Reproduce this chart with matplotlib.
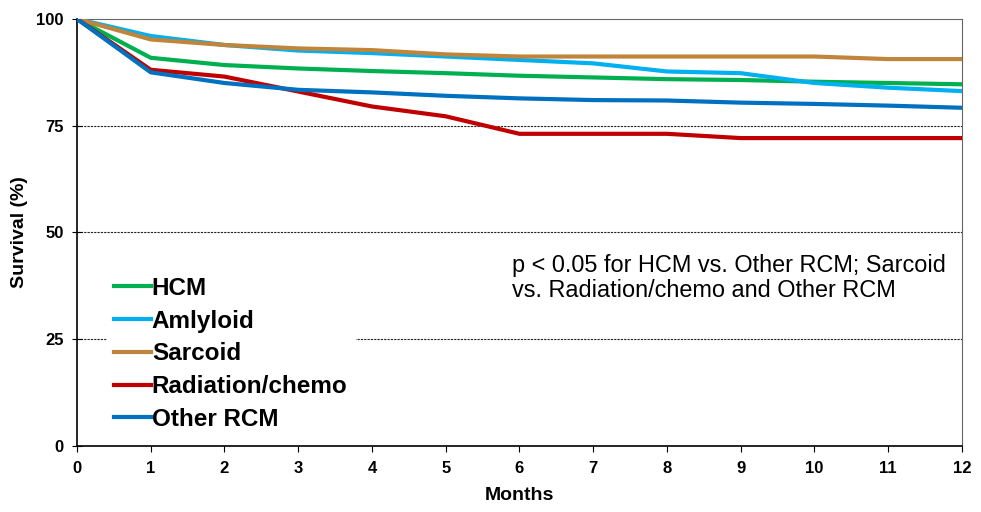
import matplotlib.pyplot as plt

months = [0, 1, 2, 3, 4, 5, 6, 7, 8, 9, 10, 11, 12]
hcm = [100, 90.9, 89.2, 88.4, 87.8, 87.3, 86.7, 86.3, 85.9, 85.7, 85.3, 85.0, 84.7]
amyloid = [100, 96.0, 93.9, 92.6, 92.0, 91.2, 90.4, 89.6, 87.7, 87.3, 85.0, 83.9, 83.1]
sarcoid = [100, 95.2, 93.9, 93.1, 92.7, 91.7, 91.2, 91.2, 91.2, 91.2, 91.2, 90.6, 90.6]
radiation = [100, 88.1, 86.5, 83.0, 79.5, 77.2, 73.1, 73.1, 73.1, 72.1, 72.1, 72.1, 72.1]
other_rcm = [100, 87.5, 85.0, 83.4, 82.8, 82.0, 81.4, 81.0, 80.9, 80.4, 80.1, 79.7, 79.2]

series = [
    ('HCM', hcm, '#00b050'),
    ('Amlyloid', amyloid, '#00b0f0'),
    ('Sarcoid', sarcoid, '#c0843a'),
    ('Radiation/chemo', radiation, '#c00000'),
    ('Other RCM', other_rcm, '#0070c0'),
]

plt.rcParams['font.family'] = ['Liberation Sans', 'DejaVu Sans']

fig = plt.figure(figsize=(9.81, 5.12), dpi=100)
ax = fig.add_axes([0.0785, 0.129, 0.902, 0.834])

for y in [25, 50, 75]:
    ax.axhline(y, color='#222222', linestyle=(0, (2, 1)), linewidth=0.8, zorder=1)

for name, vals, col in series:
    ax.plot(months, vals, color=col, linewidth=3, label=name, zorder=3)

ax.set_xlim(0, 12)
ax.set_ylim(0, 100)
ax.set_xticks(months)
ax.set_yticks([0, 25, 50, 75, 100])
ax.tick_params(axis='x', labelsize=12, direction='out', length=4, pad=7)
ax.tick_params(axis='y', labelsize=12, direction='inout', length=7, pad=6)
for lbl in ax.get_xticklabels() + ax.get_yticklabels():
    lbl.set_fontweight('bold')
ax.set_xlabel('Months', fontsize=14, fontweight='bold', labelpad=8)
ax.set_ylabel('Survival (%)', fontsize=14, fontweight='bold', labelpad=6)

for side in ['top', 'right']:
    ax.spines[side].set_color('#666666')
for side in ['left', 'bottom']:
    ax.spines[side].set_color('black')
    ax.spines[side].set_linewidth(1.2)

leg = ax.legend(loc='lower left', bbox_to_anchor=(0.02, -0.01), frameon=True,
                fancybox=False, edgecolor='white', framealpha=1,
                prop={'size': 17.5, 'weight': 'bold'}, handlelength=1.5,
                handletextpad=0.05, labelspacing=0.4, borderpad=0.3)
leg.set_zorder(2)

ax.text(0.492, 0.45, 'p < 0.05 for HCM vs. Other RCM; Sarcoid\nvs. Radiation/chemo and Other RCM',
        transform=ax.transAxes, fontsize=16.9, va='top', ha='left', linespacing=1.12)

fig.savefig('out.png', dpi=100)
